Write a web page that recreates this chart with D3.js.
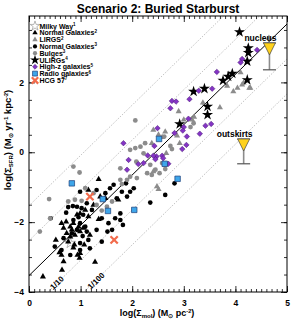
<!DOCTYPE html>
<html>
<head>
<meta charset="utf-8">
<script src="https://cdn.jsdelivr.net/npm/d3@7"></script>
<style>
body { margin: 0; background: #fff; }
text { font-family: "Liberation Sans", Arial, sans-serif; font-weight: bold; fill: #000; }
</style>
</head>
<body>
<svg id="chart" width="293" height="327"></svg>
<script>
// ---- data: [log Sigma_mol, log Sigma_SFR] ----
var milkyWay = [[0.80, -2.60]];

var normalK98 = [[0.27,-3.56],[0.67,-3.13],[0.63,-2.94],[0.59,-2.87],[0.98,-3.03],[0.94,-2.94],
  [0.99,-2.89],[0.86,-2.73],[0.76,-2.56],[0.67,-2.17],[0.63,-2.03],[0.72,-1.99],[0.80,-2.13],
  [0.86,-2.03],[0.93,-1.79],[0.99,-1.75],[1.09,-1.65],[1.15,-1.08],[1.35,-0.77],[1.38,-1.27],
  [1.25,-1.51],[0.83,-2.22],[0.89,-2.37],[0.73,-2.32],[0.99,-2.27],[1.05,-2.17],[0.96,-2.13],
  [0.88,-2.65],[0.80,-2.42],[1.15,-1.84],[1.35,-1.92],[1.48,-1.32],[1.73,-1.36],[0.52,-2.51],
  [1.07,-2.65],[1.18,-2.37],[0.64,-3.37],[1.28,-3.14]];

var lirgs = [[4.65,3.27],[4.29,1.84],[4.13,1.93],[4.04,1.84],[3.84,1.90],[3.96,1.74],[3.70,1.28],
  [3.37,1.42],[2.90,1.17],[3.20,1.01],[3.16,0.93],[2.41,0.64],[2.64,0.59],[2.87,0.47],[2.58,0.43],
  [3.00,0.93],[2.92,0.26],[2.66,-0.03],[2.38,0.26],[2.51,-1.06],[2.51,0.50],[2.64,-0.36],
  [2.41,-0.55],[2.48,-0.98],[4.16,1.99],[4.27,1.84],[4.10,2.28]];

var normalF13 = [[0.99,-1.13],[0.42,-1.89],[0.72,-1.73],[0.76,-1.57],[0.85,-1.54],[0.93,-1.56],
  [1.02,-1.60],[1.12,-1.46],[1.22,-1.65],[1.05,-1.79],[0.96,-1.86],[0.86,-1.94],[0.99,-2.03],
  [1.09,-2.13],[0.93,-2.22],[1.12,-2.27],[0.83,-2.32],[0.67,-2.46],[1.04,-2.40],[0.99,-2.60],
  [1.15,-2.51],[1.31,-2.22],[1.41,-1.89],[1.54,-2.03],[1.67,-1.89],[1.70,-1.32],[1.77,-1.75],
  [1.80,-1.13],[1.88,-0.89],[1.96,-1.13],[1.90,-1.27],[2.03,-1.03],[1.82,-2.08],[1.77,-1.94],
  [1.61,-2.22],[1.52,-2.27],[1.41,-2.56],[0.50,-2.70],[0.63,-2.80],[0.99,-2.80],[0.80,-2.94],
  [1.18,-2.75],[1.31,-1.08],[1.48,-1.17],[1.57,-1.03],[1.64,-0.93],[2.64,-1.22],[2.82,-0.89],
  [2.35,-1.44]];

var bulges = [[0.98,-0.58],[0.86,-0.41],[0.39,-1.34],[0.76,-1.41],[0.89,-1.36],[1.02,-1.39],
  [0.41,-1.89],[0.21,-2.27],[1.09,-1.03],[1.25,-1.17],[1.31,-1.51],[1.77,-0.46],[1.77,-0.79],
  [1.90,-0.79],[1.96,0.07],[2.06,0.12],[2.16,0.16],[2.25,0.26],[2.22,-0.03],[2.29,-0.60],
  [1.96,-0.70],[1.80,-0.91],[2.09,-0.74],[2.08,-0.27],[2.35,-0.36],[1.51,-1.56],[1.61,-1.41],
  [1.41,-1.67],[2.77,0.09],[2.45,-0.50],[2.38,-0.65],[2.53,-0.60],[2.64,-0.48],[2.58,-0.31],
  [2.74,0.18],[3.19,0.83],[3.13,0.72],[2.62,0.45],[2.06,0.91]];

var ulirgs = [[4.08,3.44],[4.25,2.98],[4.25,2.85],[4.23,2.60],[3.86,2.17],[3.76,2.05],[3.94,2.25],
  [4.23,2.07],[3.19,1.74],[3.40,1.82],[3.46,1.31],[3.46,1.07],[2.92,0.81]];

var highZ = [[4.42,2.93],[4.13,2.67],[4.10,2.57],[3.64,2.30],[3.55,1.82],[3.29,1.76],[3.11,1.52],
  [2.77,1.47],[2.85,1.45],[2.74,1.26],[3.09,0.96],[3.53,0.81],[3.42,0.76],[3.00,0.72],[2.49,0.69],
  [2.82,0.55],[3.31,0.53],[2.98,0.62],[3.06,0.45],[2.97,0.09],[3.05,0.21],[1.83,0.26],[2.43,0.18],
  [1.93,-0.22],[2.30,-0.09],[2.12,-0.34],[2.22,-0.31],[1.90,-0.50],[2.47,-0.12],[2.41,-0.10],
  [2.58,-0.10],[2.60,-0.17],[2.70,-0.33],[2.45,-0.20]];

var radioGal = [[0.83,-0.89],[1.43,-1.34],[1.53,-1.68],[2.04,-1.65],[2.52,0.38],[2.63,-0.33],[2.88,-0.76]];

var hcg57 = [[1.18,-1.27],[1.65,-2.51]];

// HCG 57 upper limits
var limitNames = ["nucleus", "outskirts"];
var limitX = [4.66, 4.16];
var limitTop = [3.13, 0.38];
var limitBottom = [2.36, -0.33];

// Kennicutt relation and scaled copies (x100, x10, 1/10, 1/100)
var ksSlope = 1.44, ksIntercept = -3.53;
var ksOffsets = [2, 1, -1, -2];
var offsetLabels = [["1/10", 0.54, -3.74], ["1/100", 1.30, -3.68]];

var xTicks = [0, 1, 2, 3, 4, 5];
var yTicks = [-4, -2, 0, 2];

var legendLabels = ["Milky Way", "Normal Galaxies", "LIRGS", "Normal Galaxies", "Bulges",
  "ULIRGs", "High-z galaxies", "Radio galaxies", "HCG 57"];
var legendNotes = ["1", "2", "2", "3", "3", "4", "5", "6", "7"];

// ---- setup ----
var svg = d3.select("#chart");
var x = d3.scaleLinear().domain([0, 5]).range([29, 287]);
var y = d3.scaleLinear().domain([-4, 3.9]).range([292, 16]);

svg.append("clipPath").attr("id", "plotclip")
  .append("rect").attr("x", 29).attr("y", 16).attr("width", 258).attr("height", 276);

var gray = "#8c8c8c";

// styles for every series (legend order)
var series = [
  {data: milkyWay, type: d3.symbolStar, size: 36, fill: "#fff", stroke: "#999", sw: 0.7},
  {data: normalK98, type: d3.symbolTriangle, size: 16, fill: "#000", stroke: "none", sw: 0},
  {data: lirgs, type: d3.symbolTriangle, size: 16, fill: gray, stroke: "none", sw: 0},
  {data: normalF13, type: d3.symbolCircle, size: 17, fill: "#000", stroke: "none", sw: 0},
  {data: bulges, type: d3.symbolCircle, size: 18, fill: gray, stroke: "none", sw: 0},
  {data: ulirgs, type: d3.symbolStar, size: 38, fill: "#000", stroke: "none", sw: 0},
  {data: highZ, type: d3.symbolSquare, size: 15, fill: "#8434c4", stroke: "#4b1a78", sw: 0.5, rot: 45},
  {data: radioGal, type: d3.symbolSquare, size: 30, fill: "#3ea6ea", stroke: "#1c3f7a", sw: 0.7},
  {data: hcg57, type: d3.symbolTimes, size: 36, fill: "none", stroke: "#f26b4c", sw: 2.2}
];

// ---- lines ----
var lines = svg.append("g").attr("clip-path", "url(#plotclip)");
function ksLine(off) {
  return [[0, ksIntercept + off], [5, ksIntercept + off + ksSlope * 5]];
}
var lineGen = d3.line().x(function(d) { return x(d[0]); }).y(function(d) { return y(d[1]); });

ksOffsets.forEach(function(off) {
  lines.append("path").attr("d", lineGen(ksLine(off)))
    .attr("fill", "none").attr("stroke", "#9a9a9a")
    .attr("stroke-width", 0.8).attr("stroke-dasharray", "1,1.6");
});
lines.append("path").attr("d", lineGen(ksLine(0)))
  .attr("fill", "none").attr("stroke", "#000").attr("stroke-width", 1);

var ang = -Math.atan(ksSlope * (y(0) - y(1)) / (x(1) - x(0))) * 180 / Math.PI;
offsetLabels.forEach(function(l) {
  svg.append("text").attr("transform", "translate(" + x(l[1]) + "," + y(l[2]) + ") rotate(" + ang + ")")
    .attr("text-anchor", "middle").attr("dy", "0.35em")
    .style("font-size", "8px").text(l[0]);
});

// ---- points ----
var pts = svg.append("g").attr("clip-path", "url(#plotclip)");
series.forEach(function(s) {
  pts.append("g").selectAll("path").data(s.data).join("path")
    .attr("transform", function(d) {
      return "translate(" + x(d[0]) + "," + y(d[1]) + ")" + (s.rot ? " rotate(" + s.rot + ")" : "");
    })
    .attr("d", d3.symbol().type(s.type).size(s.size))
    .attr("fill", s.fill).attr("stroke", s.stroke).attr("stroke-width", s.sw);
});

// upper limits with error bars
limitNames.forEach(function(name, i) {
  var cx = x(limitX[i]), yt = y(limitTop[i]), yb = y(limitBottom[i]);
  svg.append("line").attr("x1", cx).attr("x2", cx).attr("y1", yt).attr("y2", yb)
    .attr("stroke", gray).attr("stroke-width", 1.6);
  svg.append("line").attr("x1", cx - 6.5).attr("x2", cx + 6.5).attr("y1", yb).attr("y2", yb)
    .attr("stroke", "#555").attr("stroke-width", 1.2);
  svg.append("line").attr("x1", cx - 6.5).attr("x2", cx + 6.5).attr("y1", yt).attr("y2", yt)
    .attr("stroke", gray).attr("stroke-width", 1.6);
  svg.append("polygon")
    .attr("points", [[cx - 6, yt], [cx + 6, yt], [cx, yt + 12]].map(function(p) { return p.join(","); }).join(" "))
    .attr("fill", "#ffd21c").attr("stroke", "#444").attr("stroke-width", 0.7);
  svg.append("text").attr("x", cx - 9).attr("y", yt - 2).attr("text-anchor", "middle")
    .style("font-size", "8.5px").text(name);
});

// ---- axes ----
function axisPair(axisFn, scale, major, minor, pos, labels) {
  var g = svg.append("g").attr("transform", pos);
  g.call(axisFn(scale).tickValues(minor).tickSize(-3).tickFormat(""));
  var m = svg.append("g").attr("transform", pos);
  m.call(axisFn(scale).tickValues(major).tickSize(-6).tickPadding(labels ? 8 : 0)
    .tickFormat(labels ? d3.format("d") : ""));
  [g, m].forEach(function(a) {
    a.select(".domain").remove();
    a.selectAll("line").attr("stroke", "#000").attr("stroke-width", 0.8);
    a.selectAll("text").style("font-size", "8.5px").style("font-family", null);
  });
  return m;
}
var xMinor = d3.range(0, 50.1, 1).map(function(v) { return v / 10; });
var yMinor = d3.range(-8, 8, 1).map(function(v) { return v / 2; });
axisPair(d3.axisBottom, x, xTicks, xMinor, "translate(0,292)", true);
axisPair(d3.axisTop, x, xTicks, xMinor, "translate(0,16)", false);
var ya = axisPair(d3.axisLeft, y, yTicks, yMinor, "translate(29,0)", true);
ya.selectAll("text").attr("x", -5);
axisPair(d3.axisRight, y, yTicks, yMinor, "translate(287,0)", false);

svg.append("rect").attr("x", 29).attr("y", 16).attr("width", 258).attr("height", 276)
  .attr("fill", "none").attr("stroke", "#000").attr("stroke-width", 1);

// ---- legend ----
var leg = svg.append("g");
legendLabels.forEach(function(lab, i) {
  var s = series[i], ly = 26 + i * 6.8;
  leg.append("path")
    .attr("transform", "translate(35," + ly + ")" + (s.rot ? " rotate(" + s.rot + ")" : ""))
    .attr("d", d3.symbol().type(s.type).size(s.size * 0.8))
    .attr("fill", s.fill).attr("stroke", s.stroke).attr("stroke-width", s.sw);
  var t = leg.append("text").attr("x", 39.5).attr("y", ly + 2.6).style("font-size", "7px");
  t.append("tspan").text(lab);
  t.append("tspan").attr("dy", -2.6).style("font-size", "4.5px").text(legendNotes[i]);
});

// ---- titles ----
svg.append("text").attr("x", 158).attr("y", 13).attr("text-anchor", "middle")
  .style("font-size", "12px").text("Scenario 2: Buried Starburst");

function richText(t, parts) {
  var prev = 0;
  parts.forEach(function(p) {
    t.append("tspan").attr("dy", p[1] - prev).style("font-size", p[2] + "px").text(p[0]);
    prev = p[1];
  });
}
var xl = svg.append("text").attr("x", 157).attr("y", 316).attr("text-anchor", "middle");
richText(xl, [["log(\u03A3", 0, 9], ["mol", 2, 6], [") (M", 0, 9], ["\u2299", 1.5, 6], [" pc", 0, 9], ["-2", -3.5, 5.5], [")", 0, 9]]);

var yl = svg.append("text").attr("transform", "translate(11,140) rotate(-90)").attr("text-anchor", "middle");
richText(yl, [["log(\u03A3", 0, 9.5], ["SFR", 2, 6], [") (M", 0, 9.5], ["\u2299", 1.5, 6], [" yr", 0, 9.5], ["-1", -3.5, 5.5], [" kpc", 0, 9.5], ["-2", -3.5, 5.5], [")", 0, 9.5]]);
</script>
</body>
</html>
